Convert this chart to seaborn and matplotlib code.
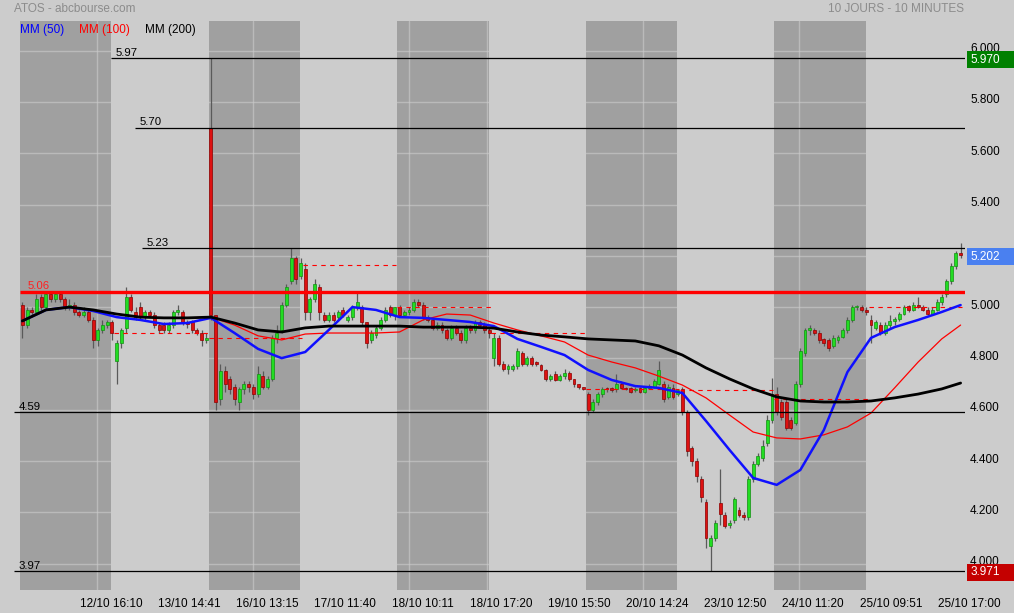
import numpy as np
import pandas as pd
import matplotlib
matplotlib.use("Agg")
import matplotlib.pyplot as plt
import matplotlib.transforms as mtransforms
from matplotlib.patches import Rectangle
import seaborn as sns


# ============================================================
# DATA  (ATOS, 10 days, 20 candles per day)
# ============================================================

opens = [
    5.01, 4.93, 4.99, 4.98, 5.04, 5.00, 5.05, 5.03, 5.05, 5.03, 5.00, 5.01, 4.98, 4.97, 4.98, 4.95, 4.87, 4.91, 4.93, 4.94,
    4.79, 4.86, 4.92, 5.04, 4.98, 5.00, 4.96, 4.98, 4.97, 4.93, 4.93, 4.91, 4.93, 4.98, 4.98, 4.94, 4.94, 4.91, 4.90, 4.87,
    5.70, 4.97, 4.64, 4.75, 4.72, 4.69, 4.63, 4.68, 4.70, 4.69, 4.66, 4.73, 4.69, 4.72, 4.88, 4.91, 5.01, 5.10, 5.19, 5.12,
    5.15, 4.98, 5.03, 5.08, 4.97, 4.95, 4.97, 4.96, 4.99, 4.95, 4.96, 5.00, 5.00, 4.94, 4.87, 4.89, 4.92, 4.95, 5.00, 4.97,
    5.00, 4.97, 4.98, 4.99, 5.02, 5.01, 4.96, 4.95, 4.92, 4.93, 4.91, 4.88, 4.92, 4.90, 4.87, 4.92, 4.91, 4.94, 4.93, 4.91,
    4.80, 4.88, 4.78, 4.76, 4.76, 4.77, 4.82, 4.78, 4.80, 4.785, 4.775, 4.755, 4.72, 4.74, 4.715, 4.73, 4.745, 4.72, 4.70, 4.69,
    4.66, 4.60, 4.63, 4.66, 4.685, 4.685, 4.68, 4.70, 4.685, 4.685, 4.675, 4.685, 4.67, 4.685, 4.69, 4.70, 4.70, 4.65, 4.685, 4.66,
    4.68, 4.59, 4.45, 4.40, 4.33, 4.24, 4.07, 4.10, 4.235, 4.19, 4.15, 4.17, 4.21, 4.19, 4.18, 4.33, 4.39, 4.41, 4.47, 4.56,
    4.66, 4.63, 4.63, 4.56, 4.55, 4.70, 4.82, 4.91, 4.91, 4.90, 4.875, 4.87, 4.85, 4.87, 4.885, 4.91, 4.95, 5.00, 5.00, 4.99,
    4.95, 4.92, 4.93, 4.90, 4.93, 4.945, 4.955, 4.975, 5.005, 4.99, 5.01, 5.00, 4.99, 4.975, 4.99, 5.02, 5.05, 5.10, 5.16, 5.21,
]
highs = [
    5.02, 5.00, 5.00, 5.05, 5.05, 5.055, 5.055, 5.055, 5.055, 5.04, 5.03, 5.02, 4.99, 5.00, 4.99, 4.96, 4.92, 4.95, 4.95, 4.95,
    4.87, 4.92, 5.08, 5.05, 5.00, 5.02, 4.99, 4.99, 4.98, 4.94, 4.94, 4.94, 4.99, 5.01, 4.99, 4.95, 4.95, 4.92, 4.91, 4.90,
    5.97, 4.97, 4.78, 4.77, 4.73, 4.70, 4.69, 4.71, 4.71, 4.70, 4.77, 4.75, 4.73, 4.89, 4.93, 5.02, 5.09, 5.23, 5.20, 5.19,
    5.17, 5.04, 5.11, 5.09, 4.98, 4.98, 4.98, 4.99, 5.00, 4.97, 5.01, 5.055, 5.01, 4.94, 4.91, 4.93, 4.96, 5.00, 5.01, 5.00,
    5.01, 4.99, 5.00, 5.03, 5.03, 5.02, 4.97, 4.96, 4.94, 4.94, 4.92, 4.93, 4.93, 4.91, 4.93, 4.93, 4.95, 4.95, 4.94, 4.92,
    4.90, 4.89, 4.79, 4.78, 4.78, 4.84, 4.83, 4.81, 4.81, 4.79, 4.78, 4.76, 4.74, 4.75, 4.74, 4.76, 4.75, 4.72, 4.70, 4.69,
    4.67, 4.64, 4.67, 4.69, 4.69, 4.69, 4.74, 4.71, 4.69, 4.69, 4.69, 4.69, 4.69, 4.70, 4.72, 4.79, 4.71, 4.70, 4.70, 4.68,
    4.69, 4.60, 4.46, 4.41, 4.34, 4.25, 4.11, 4.17, 4.37, 4.20, 4.17, 4.26, 4.22, 4.20, 4.34, 4.40, 4.43, 4.48, 4.58, 4.725,
    4.69, 4.64, 4.64, 4.57, 4.71, 4.84, 4.92, 4.93, 4.92, 4.91, 4.88, 4.88, 4.89, 4.89, 4.92, 4.96, 5.01, 5.01, 5.01, 5.00,
    4.97, 4.95, 4.94, 4.94, 4.97, 4.96, 4.98, 5.01, 5.01, 5.02, 5.04, 5.01, 5.00, 5.00, 5.03, 5.05, 5.11, 5.17, 5.22, 5.25,
]
lows = [
    4.88, 4.92, 4.96, 4.97, 4.99, 4.99, 5.02, 5.02, 5.02, 4.99, 4.99, 4.97, 4.96, 4.96, 4.94, 4.84, 4.85, 4.90, 4.92, 4.87,
    4.70, 4.84, 4.90, 4.98, 4.95, 4.95, 4.95, 4.96, 4.92, 4.90, 4.90, 4.90, 4.92, 4.97, 4.93, 4.92, 4.90, 4.89, 4.85, 4.86,
    4.95, 4.60, 4.62, 4.67, 4.66, 4.62, 4.60, 4.66, 4.67, 4.64, 4.65, 4.68, 4.68, 4.71, 4.86, 4.90, 5.00, 5.09, 5.09, 5.11,
    4.95, 4.95, 5.02, 4.95, 4.94, 4.94, 4.94, 4.95, 4.96, 4.94, 4.95, 4.99, 4.93, 4.84, 4.86, 4.88, 4.91, 4.94, 4.96, 4.95,
    4.96, 4.96, 4.97, 4.98, 5.00, 4.95, 4.94, 4.91, 4.91, 4.90, 4.87, 4.87, 4.89, 4.86, 4.86, 4.90, 4.90, 4.92, 4.90, 4.88,
    4.77, 4.77, 4.75, 4.74, 4.75, 4.76, 4.77, 4.77, 4.77, 4.77, 4.75, 4.71, 4.71, 4.71, 4.71, 4.72, 4.71, 4.69, 4.68, 4.675,
    4.58, 4.59, 4.62, 4.65, 4.67, 4.67, 4.67, 4.68, 4.675, 4.665, 4.67, 4.665, 4.665, 4.68, 4.685, 4.695, 4.63, 4.64, 4.64, 4.655,
    4.58, 4.42, 4.38, 4.32, 4.24, 4.06, 3.971, 4.09, 4.15, 4.14, 4.14, 4.16, 4.18, 4.17, 4.17, 4.32, 4.38, 4.40, 4.46, 4.55,
    4.58, 4.56, 4.52, 4.52, 4.54, 4.69, 4.81, 4.89, 4.89, 4.86, 4.85, 4.83, 4.84, 4.86, 4.88, 4.90, 4.94, 4.99, 4.98, 4.97,
    4.86, 4.91, 4.89, 4.89, 4.92, 4.93, 4.945, 4.97, 4.98, 4.985, 4.995, 4.985, 4.97, 4.97, 4.985, 5.01, 5.04, 5.09, 5.15, 5.19,
]
closes = [
    4.93, 4.99, 4.98, 5.03, 5.00, 5.05, 5.03, 5.05, 5.03, 5.00, 5.01, 4.98, 4.97, 4.98, 4.95, 4.87, 4.91, 4.93, 4.94, 4.90,
    4.86, 4.91, 5.04, 4.99, 4.96, 4.96, 4.98, 4.97, 4.93, 4.91, 4.91, 4.93, 4.98, 4.99, 4.94, 4.935, 4.91, 4.90, 4.87, 4.88,
    4.97, 4.63, 4.75, 4.70, 4.68, 4.64, 4.68, 4.70, 4.69, 4.66, 4.74, 4.69, 4.72, 4.88, 4.90, 5.01, 5.08, 5.19, 5.11, 5.17,
    4.98, 5.03, 5.09, 4.98, 4.95, 4.97, 4.95, 4.98, 4.97, 4.96, 5.00, 5.02, 4.94, 4.86, 4.90, 4.92, 4.95, 4.99, 4.97, 5.00,
    4.97, 4.98, 4.99, 5.02, 5.01, 4.96, 4.95, 4.92, 4.93, 4.91, 4.88, 4.92, 4.90, 4.87, 4.92, 4.91, 4.94, 4.93, 4.91, 4.90,
    4.88, 4.78, 4.76, 4.77, 4.77, 4.83, 4.78, 4.80, 4.78, 4.78, 4.755, 4.72, 4.73, 4.715, 4.73, 4.745, 4.72, 4.70, 4.69, 4.68,
    4.60, 4.63, 4.66, 4.68, 4.68, 4.675, 4.70, 4.685, 4.68, 4.67, 4.68, 4.67, 4.685, 4.69, 4.71, 4.755, 4.64, 4.69, 4.65, 4.675,
    4.59, 4.44, 4.40, 4.34, 4.26, 4.10, 4.10, 4.16, 4.195, 4.145, 4.16, 4.25, 4.19, 4.18, 4.33, 4.39, 4.42, 4.46, 4.56, 4.66,
    4.59, 4.57, 4.53, 4.53, 4.70, 4.83, 4.91, 4.92, 4.90, 4.87, 4.86, 4.84, 4.88, 4.885, 4.91, 4.95, 5.00, 5.005, 4.99, 4.98,
    4.93, 4.94, 4.90, 4.93, 4.945, 4.955, 4.975, 5.00, 4.99, 5.01, 5.00, 4.99, 4.975, 4.99, 5.02, 5.04, 5.10, 5.16, 5.21, 5.202,
]

candles_per_day = 20

# previous day close, shown as dashed reference on days 2..10
prev_close = [4.90, 4.88, 5.165, 5.00, 4.90, 4.68, 4.675, 4.64, 5.00]

# moving averages, read every 5 candles
ma_index = list(range(0, 200, 5)) + [199]
ma50 = [4.946, 4.989, 5.000, 4.985, 4.961, 4.950, 4.934, 4.938, 4.958, 4.899,
        4.837, 4.801, 4.825, 4.911, 5.000, 4.989, 4.961, 4.958, 4.950, 4.942,
        4.926, 4.876, 4.845, 4.813, 4.755, 4.716, 4.692, 4.685, 4.665, 4.556,
        4.443, 4.334, 4.307, 4.365, 4.521, 4.747, 4.880, 4.922, 4.950, 4.981, 5.008]
ma100 = [4.946, 4.989, 5.000, 4.989, 4.973, 4.961, 4.958, 4.958, 4.961, 4.930,
         4.888, 4.872, 4.895, 4.899, 4.899, 4.899, 4.903, 4.950, 4.973, 4.969,
         4.938, 4.911, 4.888, 4.864, 4.813, 4.786, 4.763, 4.731, 4.696, 4.646,
         4.579, 4.513, 4.490, 4.486, 4.502, 4.533, 4.587, 4.685, 4.786, 4.876, 4.930]
ma200 = [4.946, 4.989, 5.000, 4.989, 4.973, 4.961, 4.958, 4.958, 4.961, 4.938,
         4.911, 4.903, 4.919, 4.926, 4.926, 4.926, 4.926, 4.922, 4.922, 4.922,
         4.918, 4.903, 4.891, 4.884, 4.876, 4.872, 4.868, 4.849, 4.813, 4.763,
         4.720, 4.681, 4.650, 4.634, 4.630, 4.630, 4.634, 4.646, 4.661, 4.681, 4.704]

# drawn support / resistance levels
levels = [5.97, 5.70, 5.23, 5.06, 4.59, 3.97]
level_labels = ["5.97", "5.70", "5.23", "5.06", "4.59", "3.97"]
level_start = [18.8, 23.9, 25.4, -0.5, -1.77, -1.77]

x_labels = ["12/10 16:10", "13/10 14:41", "16/10 13:15", "17/10 11:40",
            "18/10 10:11", "18/10 17:20", "19/10 15:50", "20/10 14:24",
            "23/10 12:50", "24/10 11:20", "25/10 09:51", "25/10 17:00"]
y_ticks = [4.0, 4.2, 4.4, 4.6, 4.8, 5.0, 5.2, 5.4, 5.6, 5.8, 6.0]

period_high = 5.970
period_low = 3.971
last_price = 5.202


# ============================================================
# STYLE
# ============================================================

BG = "#cccccc"
BAND = "#a0a0a0"
sns.set_theme(style="white", rc={"axes.facecolor": BG, "figure.facecolor": BG})
plt.rcParams["font.family"] = ["Liberation Sans", "DejaVu Sans"]
FS = 8.5

W, H = 1014, 613
fig = plt.figure(figsize=(W / 100, H / 100), dpi=100)
ax = fig.add_axes([14 / W, (H - 590) / H, 951 / W, 569 / H])
for s in ax.spines.values():
    s.set_visible(False)

x_left, x_right = -1.77, 199.93
ax.set_xlim(x_left, x_right)
ax.set_ylim(3.8971, 6.1154)

# day bands (every other day shaded)
n_days = len(opens) // candles_per_day
for d in range(0, n_days, 2):
    ax.axvspan(d * candles_per_day - 0.5, d * candles_per_day + 18.9,
               color=BAND, lw=0, zorder=0.5)

# grid: only shows up on the dark bands
x_tick_pos = 15.83 + 16.54 * np.arange(len(x_labels))
for xv in x_tick_pos:
    ax.axvline(xv, color=BG, alpha=0.6, lw=1, zorder=0.8)
for yv in y_ticks:
    ax.axhline(yv, color=BG, alpha=0.6, lw=1, zorder=0.8)

# ============================================================
# CANDLES
# ============================================================

df = pd.DataFrame({"open": opens, "high": highs, "low": lows, "close": closes})
df["x"] = np.arange(len(df))
up = df["close"] >= df["open"]
body = (df["close"] - df["open"]).abs().clip(lower=0.006)
bottom = df[["open", "close"]].min(axis=1)

ax.vlines(df["x"], df["low"], df["high"], color="#5a5a5a", lw=0.9, zorder=3)
ax.bar(df["x"][up], body[up], bottom=bottom[up], width=0.62,
       color="#22dd22", edgecolor="#129012", lw=0.5, zorder=4)
ax.bar(df["x"][~up], body[~up], bottom=bottom[~up], width=0.62,
       color="#dd1111", edgecolor="#8c0000", lw=0.5, zorder=4)

# previous-close dashes
for d, pc in enumerate(prev_close, start=1):
    ax.hlines(pc, d * candles_per_day - 0.5, d * candles_per_day + 19.3,
              color="#ff0000", lw=0.8, linestyles=(0, (4, 4)), zorder=5)

# ============================================================
# MOVING AVERAGES
# ============================================================

sns.lineplot(x=ma_index, y=ma100, ax=ax, color="#ff0000", lw=0.9, sort=False, zorder=6)
sns.lineplot(x=ma_index, y=ma50, ax=ax, color="#1010ff", lw=1.8, sort=False, zorder=7)
sns.lineplot(x=ma_index, y=ma200, ax=ax, color="black", lw=2.0, sort=False, zorder=8)

# ============================================================
# LEVELS
# ============================================================

label_x = [19.86, 24.95, 26.4, 1.2, -0.71, -0.71]
for lv, lab, x0, lx in zip(levels, level_labels, level_start, label_x):
    red = lab == "5.06"
    ax.hlines(lv, x0, x_right, color="#ff0000" if red else "black",
              lw=2.4 if red else 0.9, zorder=9)
    ax.annotate(lab, (lx, lv), xytext=(0, 2.2 if red else 1.6), textcoords="offset points",
                color="#ff2020" if red else "black", fontsize=8.2, va="baseline", zorder=9)

# ============================================================
# AXES TEXT
# ============================================================

ax.set_xticks(x_tick_pos)
ax.set_xticklabels(x_labels, fontsize=FS, color="black")
ax.tick_params(axis="x", length=0, pad=5.8)
shift_x = mtransforms.ScaledTranslation(14 / 100, 0, fig.dpi_scale_trans)
for lab in ax.get_xticklabels():
    lab.set_transform(lab.get_transform() + shift_x)

# the 5.200 label sits under the last-price tag, so it is left blank
ax.yaxis.tick_right()
ax.set_yticks(y_ticks)
ax.set_yticklabels(["" if abs(v - 5.2) < 1e-9 else f"{v:.3f}" for v in y_ticks],
                   fontsize=FS, color="black")
ax.tick_params(axis="y", length=0, pad=3.6)
shift_y = mtransforms.ScaledTranslation(0, 3 / 100, fig.dpi_scale_trans)
for lab in ax.get_yticklabels():
    lab.set_transform(lab.get_transform() + shift_y)
ax.set_xlabel("")
ax.set_ylabel("")

# coloured price tags on the right edge (high, low, last)
trans = mtransforms.blended_transform_factory(ax.transAxes, ax.transData)
for val, col in [(period_high, "#008000"), (period_low, "#c40000"), (last_price, "#4a80f0")]:
    ax.add_patch(Rectangle((1.0021, val - 0.038), 0.06, 0.066, transform=trans,
                           facecolor=col, edgecolor="none", clip_on=False, zorder=20))
    ax.text(1.0053, val - 0.005, f"{val:.3f}", transform=trans, color="white",
            fontsize=FS, va="center", ha="left", zorder=21, clip_on=False)

fig.text(14 / W, 1 - 12.3 / H, "ATOS - abcbourse.com", color="#8c8c8c", fontsize=FS, va="baseline")
fig.text(964 / W, 1 - 12.3 / H, "10 JOURS - 10 MINUTES", color="#8c8c8c", fontsize=FS,
         va="baseline", ha="right")
fig.text(20 / W, 1 - 33.3 / H, "MM (50)", color="#0000ff", fontsize=FS, va="baseline")
fig.text(79 / W, 1 - 33.3 / H, "MM (100)", color="#ff0000", fontsize=FS, va="baseline")
fig.text(145 / W, 1 - 33.3 / H, "MM (200)", color="black", fontsize=FS, va="baseline")

fig.savefig("out.png", dpi=100, facecolor=BG)
